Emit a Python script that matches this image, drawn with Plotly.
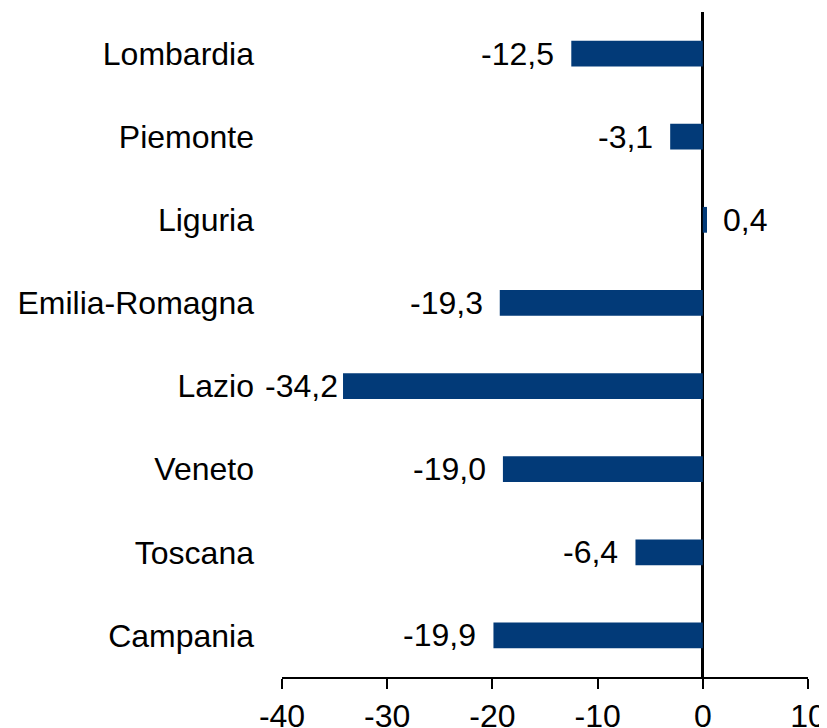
import plotly.graph_objects as go

### Data ###
regions = ["Lombardia", "Piemonte", "Liguria", "Emilia-Romagna",
           "Lazio", "Veneto", "Toscana", "Campania"]
values = [-12.5, -3.1, 0.4, -19.3, -34.2, -19.0, -6.4, -19.9]

tick_vals = [-40, -30, -20, -10, 0, 10]
tick_text = ["-40", "-30", "-20", "-10", "0", "10"]

FONT = "Arial, Liberation Sans, sans-serif"
SIZE = 32
BLUE = "#023A78"

# the page puts the figure 8px in from the top-left corner
PAGE_PAD = 8
PLOT_L, PLOT_R, PLOT_T, PLOT_B = 282, 808, 12, 677

fig = go.Figure(go.Bar(
    x=values,
    y=regions,
    orientation="h",
    marker=dict(color=BLUE, line=dict(width=0)),
    width=0.31,
    hoverinfo="skip",
))

# rough text width (Arial metrics) to keep labels inside the chart
def text_width(s):
    w = {"-": 0.333, ",": 0.278}
    return sum(w.get(c, 0.556) for c in s) * SIZE

px_per_unit = (PLOT_R - PLOT_L) / 50.0
for reg, v in zip(regions, values):
    txt = f"{v:.1f}".replace(".", ",")
    if v < 0:
        shift = -15
        left = PLOT_L + (v + 40) * px_per_unit + shift - text_width(txt)
        if left < 267:
            shift += 267 - left
        fig.add_annotation(x=v, y=reg, text=txt, showarrow=False,
                           xanchor="right", xshift=shift,
                           font=dict(family=FONT, size=SIZE, color="black"))
    else:
        fig.add_annotation(x=v, y=reg, text=txt, showarrow=False,
                           xanchor="left", xshift=14,
                           font=dict(family=FONT, size=SIZE, color="black"))

fig.update_layout(
    width=827,
    height=728,
    margin=dict(l=PLOT_L - PAGE_PAD, r=827 - PLOT_R + PAGE_PAD,
                t=PLOT_T - PAGE_PAD, b=728 - PLOT_B + PAGE_PAD),
    plot_bgcolor="white",
    paper_bgcolor="white",
    showlegend=False,
    font=dict(family=FONT, size=SIZE, color="black"),
    xaxis=dict(
        range=[-40, 10],
        tickvals=tick_vals,
        ticktext=tick_text,
        automargin=False,
        showgrid=False,
        showline=True,
        linecolor="black",
        linewidth=1.5,
        ticks="outside",
        ticklen=10,
        tickwidth=1.5,
        tickcolor="black",
        zeroline=True,
        zerolinecolor="black",
        zerolinewidth=2.5,
        layer="above traces",
        tickfont=dict(family=FONT, size=SIZE, color="black"),
    ),
    yaxis=dict(
        categoryorder="array",
        categoryarray=regions,
        autorange="reversed",
        automargin=False,
        showgrid=False,
        showline=False,
        zeroline=False,
        ticks="",
        ticklabelstandoff=27,
        tickfont=dict(family=FONT, size=SIZE, color="black"),
    ),
)

fig.write_html("out.html")
